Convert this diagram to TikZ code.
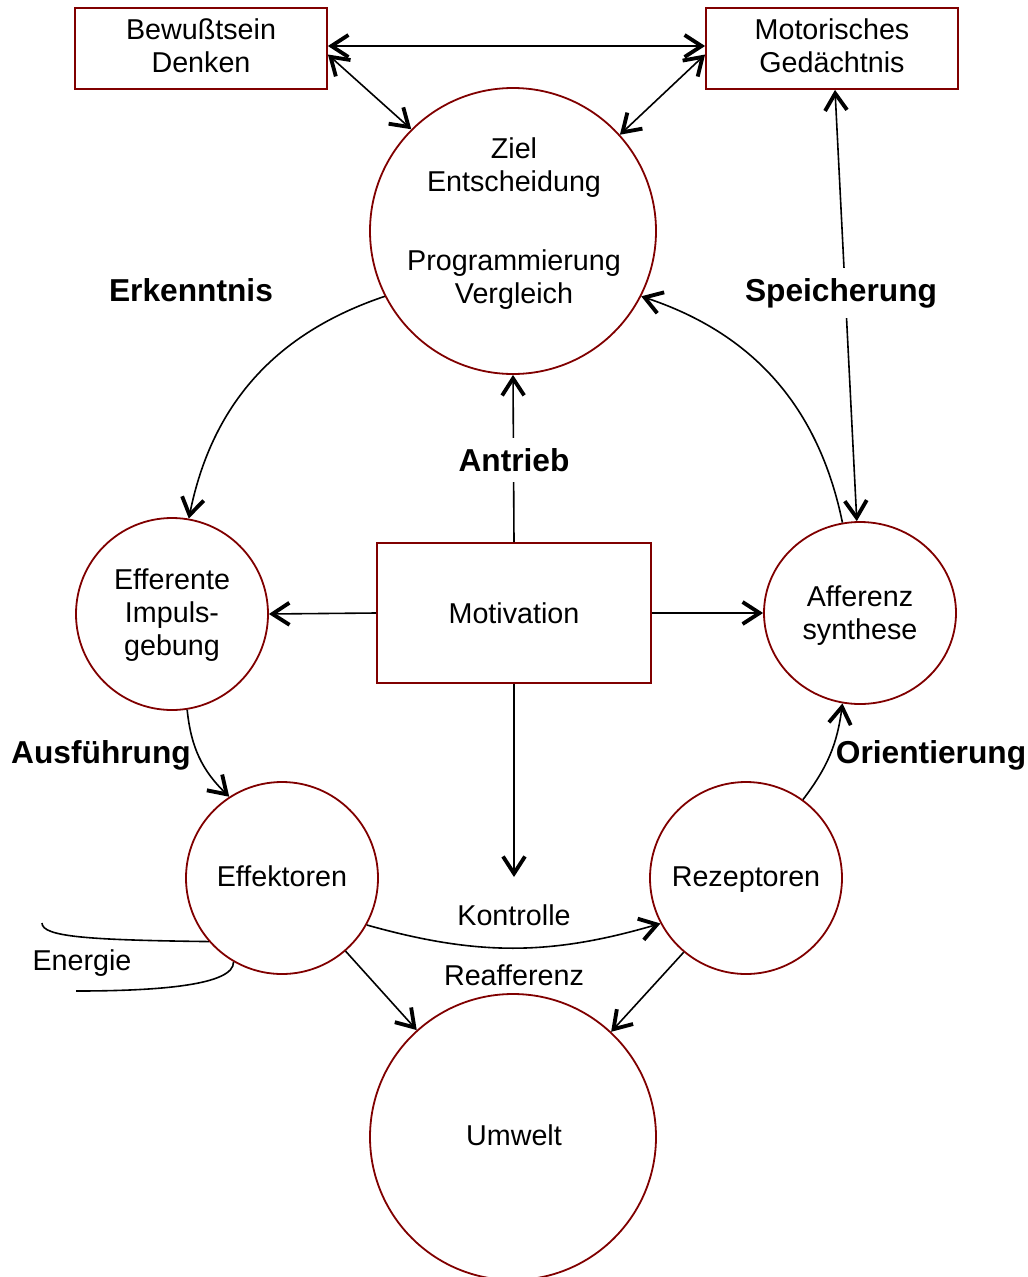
\documentclass[tikz,border=0pt]{standalone}
\usepackage{fontspec}
\setmainfont{Liberation Sans}
\usetikzlibrary{arrows.meta,shapes.geometric}
\definecolor{dred}{RGB}{128,0,0}
\begin{document}
\begin{tikzpicture}[x=1pt,y=-1pt,
  every node/.style={font=\fontsize{28.7}{33}\selectfont, align=center, inner sep=0pt},
  rc/.style={circle, draw=dred, line width=1.8pt, minimum size=#1},
  rell/.style={ellipse, draw=dred, line width=1.8pt},
  rbox/.style={rectangle, draw=dred, line width=1.8pt},
  lbl/.style={font=\fontsize{31.7}{36}\selectfont\bfseries},
  conn/.style={line width=1.6pt, black},
  barb/.tip={Straight Barb[length=17pt,width=22pt,line width=0pt 2.4]},
  >=barb]
\useasboundingbox (0,0) rectangle (1028,1277);

% nodes
\node[rbox, minimum width=252, minimum height=81] (bew) at (201,48.5) {};
\node (bewtxt) at (201,45.5) {Bewußtsein\\Denken};
\node[rbox, minimum width=252, minimum height=81] (mot) at (832,48.5) {};
\node (mottxt) at (832,45.5) {Motorisches\\Gedächtnis};
\node[rc=286] (ziel) at (513,231) {};
\node (zieltxt) at (514,224) {Ziel\\Entscheidung\\[46pt]Programmierung\\Vergleich};
\node[rc=192] (eff) at (172,614) {};
\node (efftxt) at (172,615) {Efferente\\Impuls-\\gebung};
\node[rbox, minimum width=274, minimum height=140] (motiv) at (514,613) {Motivation};
\node[rell, minimum width=192, minimum height=182] (aff) at (860,613) {};
\node (afftxt) at (860,616) {Afferenz\\synthese};
\node[rc=192] (efk) at (282,878) {};
\node (efktxt) at (282,876) {Effektoren};
\node[rc=192] (rez) at (746,878) {};
\node (reztxt) at (746,880) {Rezeptoren};
\node[rc=286] (umw) at (513,1137) {};
\node (umwtxt) at (514,1135) {Umwelt};

% plain labels
\node (tkon) at (514,915) {Kontrolle};
\node (trea) at (514,975) {Reafferenz};
\node (tene) at (82,963) {Energie};
\node[lbl] (terk) at (191,290) {Erkenntnis};
\node[lbl] (taus) at (101,755) {Ausführung};
\node[lbl] (tori) at (931,755) {Orientierung};

% connectors
\draw[conn,<->] ([yshift=2.5]bew.east) -- ([yshift=2.5]mot.west);
\draw[conn,<->] ([yshift=-6]bew.east) -- (ziel.135);
\draw[conn,<->] ([yshift=-6]mot.west) -- (ziel.42);
\draw[conn,<->] ([xshift=3]mot.south) -- (aff.92);
\node[lbl, fill=white, inner xsep=2pt, inner ysep=10pt] (tspe) at (841,293) {Speicherung};

\draw[conn,->] (ziel.207) to[bend right=30] (eff.80);
\draw[conn,->] (aff.101) to[bend right=30] (ziel.-27);
\draw[conn,->] (motiv.north) -- (ziel.south);
\node[lbl, fill=white, inner xsep=2pt, inner ysep=10pt] (tant) at (514,460) {Antrieb};
\draw[conn,->] (motiv.west) -- (eff.east);
\draw[conn,->] (motiv.east) -- (aff.west);
\coordinate (kend) at (514,877);
\draw[conn,->] (motiv.south) -- (kend);

\draw[conn,->] (eff.-81) to[bend right=20] (efk.123);
\draw[conn,->] (rez.54) to[bend right=15] (aff.-101);
\draw[conn,->] (efk.-29) to[bend right=16] (rez.208);
\draw[conn,->] (efk.-49) -- (umw.132);
\draw[conn,->] (rez.230) -- (umw.47);

\coordinate (e1) at (42,923);
\coordinate (e2) at (76,991);
\draw[conn] (e1) .. controls (42,937) and (90,940) .. (efk.221);
\draw[conn] (efk.240) .. controls (234,985) and (160,991) .. (e2);
\end{tikzpicture}
\end{document}
